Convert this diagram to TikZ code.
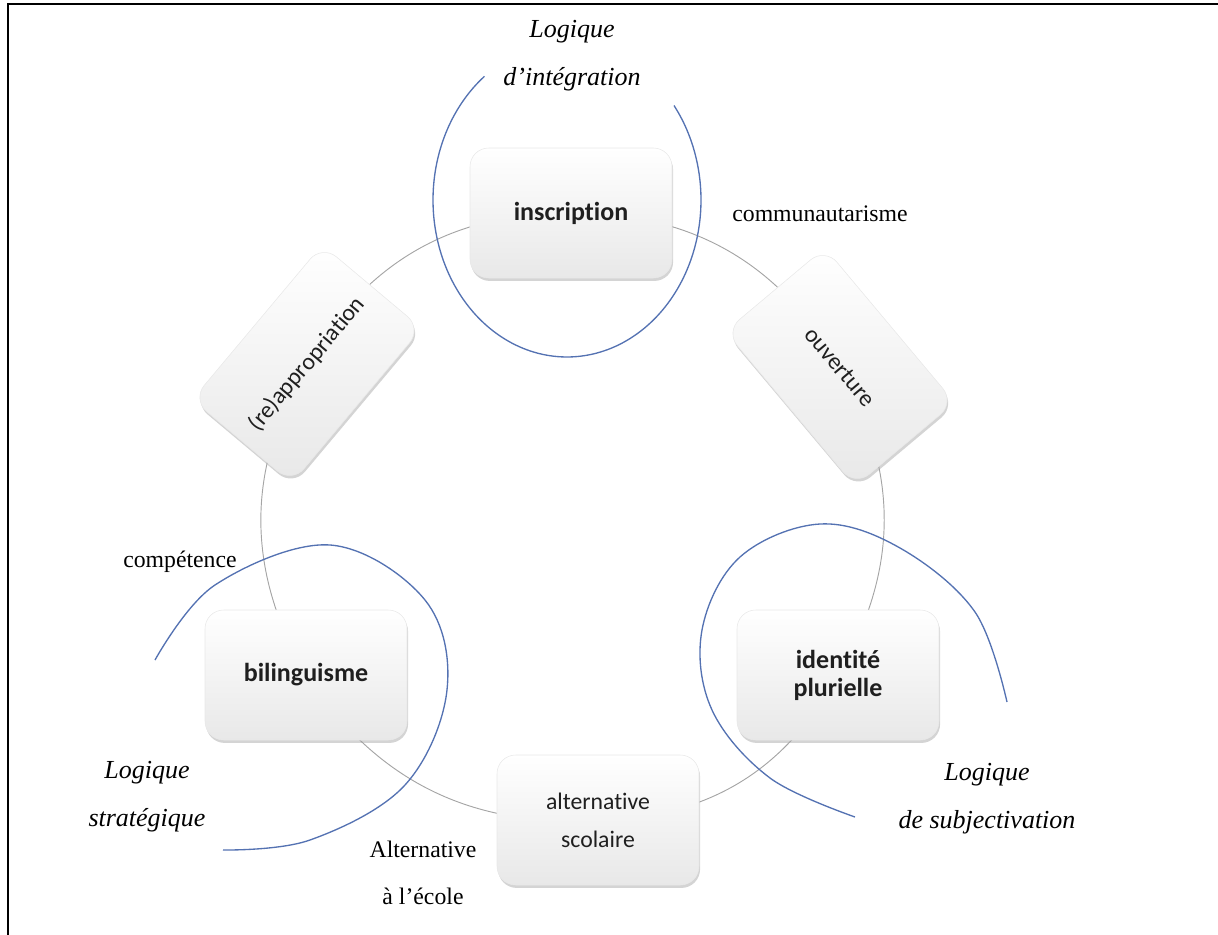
\documentclass[tikz,border=0pt]{standalone}
\usepackage{fontspec}
\setmainfont{Liberation Serif}
\newfontfamily\boxfont[Ligatures={NoCommon,NoRare,NoContextual}]{Carlito}
\usetikzlibrary{shadows,backgrounds}
\definecolor{arcblue}{RGB}{84,114,178}
\definecolor{ringgray}{RGB}{165,165,165}
\begin{document}
\begin{tikzpicture}[x=0.75pt,y=-0.75pt,
  card/.style={rounded corners=14pt, minimum width=151.5pt, minimum height=97.5pt,
    draw=gray!18, top color=white, bottom color=gray!18,
    drop shadow={shadow xshift=0.8pt, shadow yshift=-2.2pt, opacity=0.45, fill=gray!75},
    text=black!88, align=center, inner sep=2pt},
  strong/.style={font=\boxfont\bfseries\fontsize{19.5pt}{21pt}\selectfont},
  plain/.style={font=\boxfont\fontsize{17.8pt}{28.5pt}\selectfont},
  ring/.style={draw=ringgray, line width=0.7pt},
  logic/.style={draw=arcblue, line width=1pt},
  lbl/.style={font=\fontsize{17.8pt}{35pt}\selectfont, align=center, inner sep=0pt},
  ital/.style={font=\itshape\fontsize{19.5pt}{36pt}\selectfont, align=center, inner sep=0pt},
  frame/.style={line width=1.6pt, draw=black}
]
\useasboundingbox (0,0) rectangle (1218,935);

% frame
\draw[frame] (8,936) -- (8,4) -- (1219,4);

% boxes
\node[card, strong] (ins) at (571,213) {inscription};
\node[card, plain, rotate=-50] (ouv) at (840,367) {ouverture};
\node[card, strong] (ide) at (838,675) {identité\\plurielle};
\node[card, plain] (alt) at (598,820) {alternative\\scolaire};
\node[card, strong] (bil) at (306,675) {bilinguisme};
\node[card, plain, rotate=50] (rea) at (307,364) {(re)appropriation};

% ring connectors
\begin{scope}[on background layer]
\draw[ring] (ins.center) to[bend left=30] (ouv.center);
\draw[ring] (ouv.center) to[bend left=30] (ide.center);
\draw[ring] (ide.center) to[bend left=30] (alt.center);
\draw[ring] (alt.center) to[bend left=30] (bil.center);
\draw[ring] (bil.center) to[bend left=30] (rea.center);
\draw[ring] (rea.center) to[bend left=30] (ins.center);
\end{scope}

% logic arcs
\draw[logic] plot[domain=-37:232, samples=80, smooth] ({567+134*cos(\x)}, {200+157*sin(\x)});
\draw[logic] plot[smooth, tension=0.6] coordinates {(155,660) (215,585) (330,545) (425,600) (447,690) (405,785) (310,840) (223,850)};
\draw[logic] plot[smooth, tension=0.6] coordinates {(1007,702) (975,612) (900,548) (820,524) (740,557) (702,630) (712,710) (770,778) (855,817)};

% labels
\node[ital] (lint) at (572,56) {Logique\\d’intégration};
\node[ital] (lstr) at (147,797) {Logique\\stratégique};
\node[ital] (lsub) at (987,799) {Logique\\de subjectivation};
\node[lbl] (comm) at (820,214) {communautarisme};
\node[lbl] (comp) at (180,562) {compétence};
\node[lbl] (alec) at (423,873) {Alternative\\à l’école};
\end{tikzpicture}
\end{document}
